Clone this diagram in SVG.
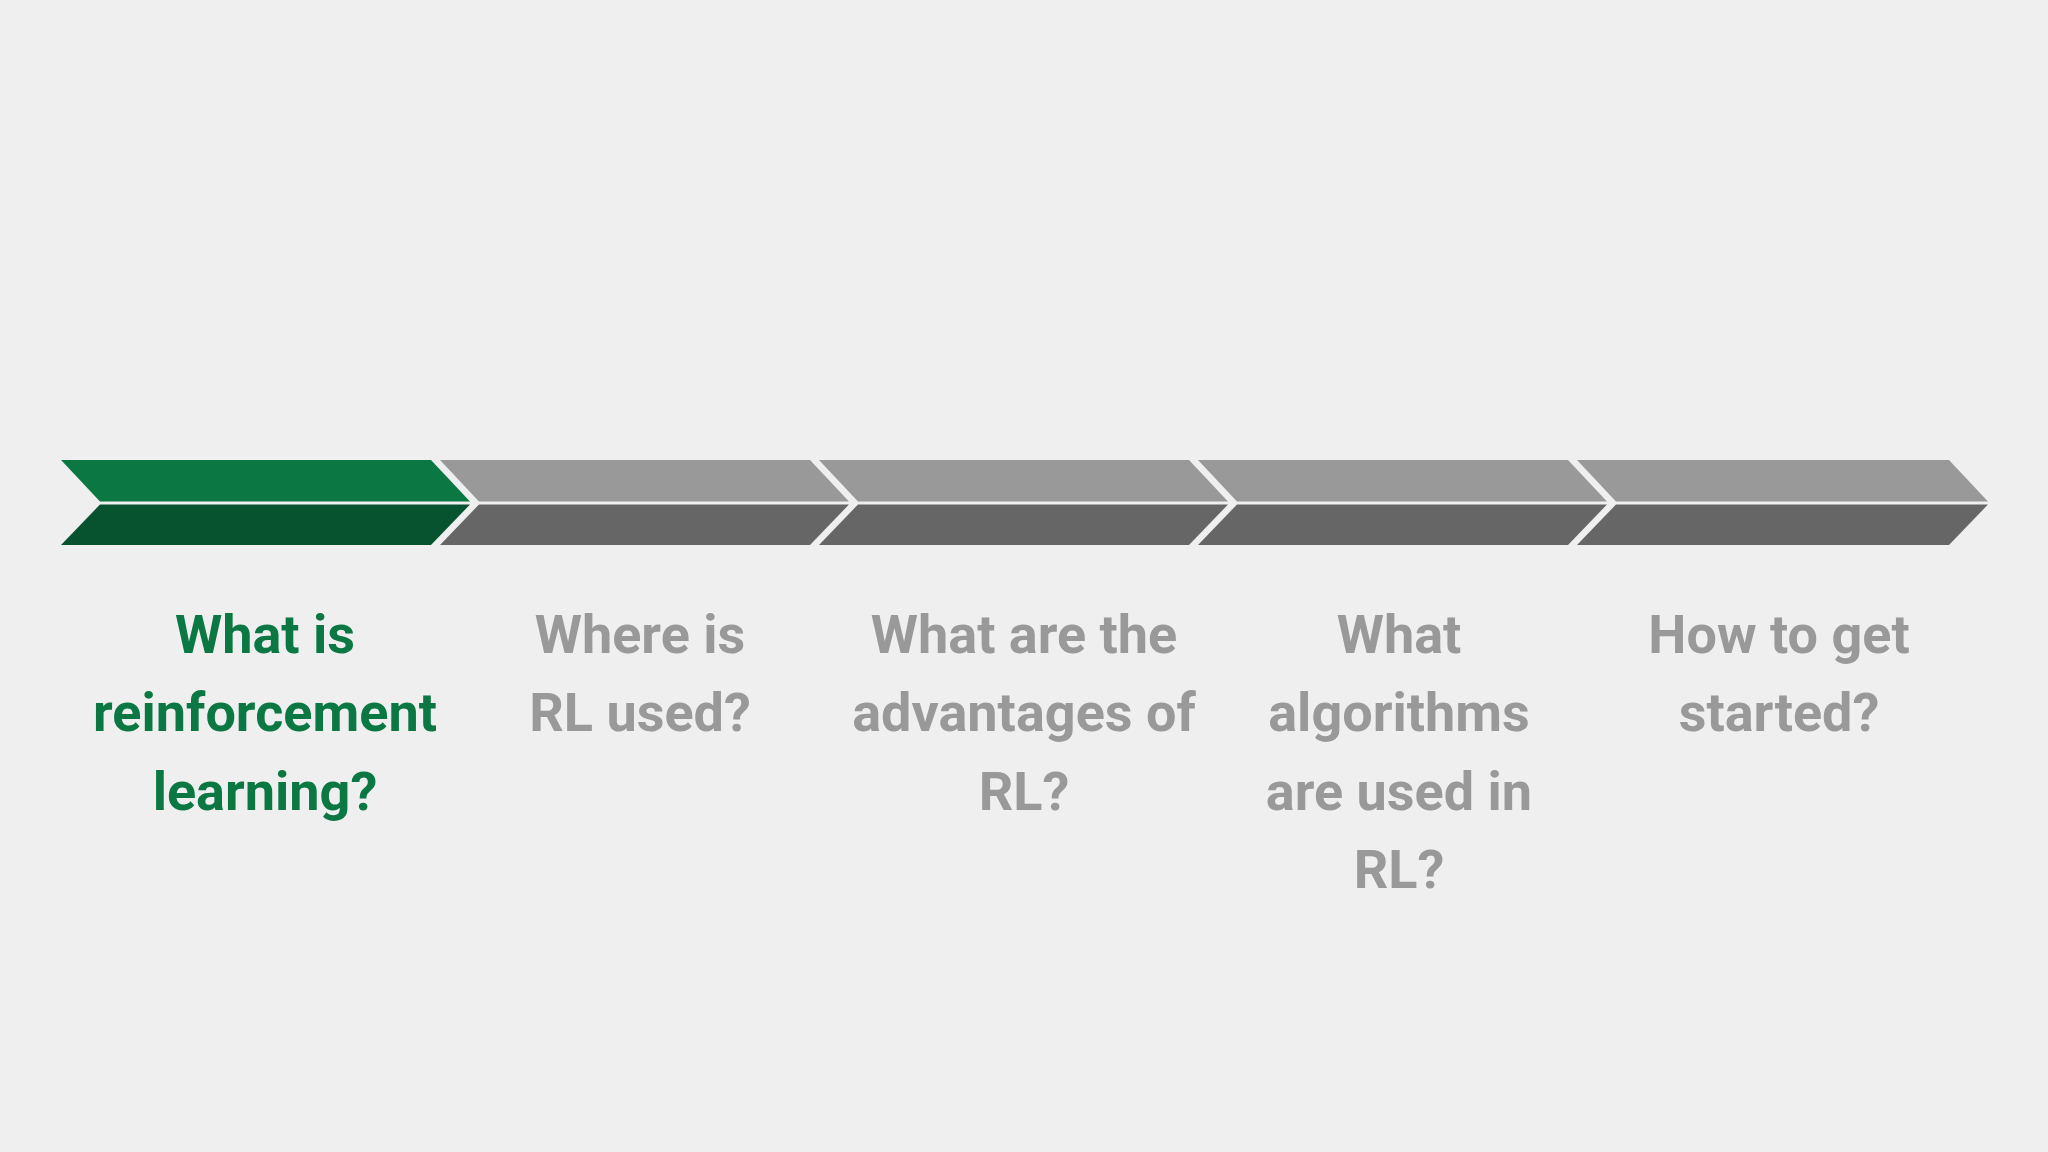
<svg xmlns="http://www.w3.org/2000/svg" width="2048" height="1152" viewBox="0 0 2048 1152">
<style>
.t{font-family:Roboto,"Liberation Sans",sans-serif;font-weight:bold;font-size:54px;text-anchor:middle}
.g{fill:#0b7843}.n{fill:#999999}
.gt{fill:#0b7843}.gb{fill:#075330}.at{fill:#999999}.ab{fill:#666666}
</style>
<rect width="2048" height="1152" fill="#efefef"/>
<g id="step1">
<polygon class="gt" points="61,460 431,460 470,501.5 100,501.5"/>
<polygon class="gb" points="100,504.5 470,504.5 431,545 61,545"/>
<text class="t g" x="265" y="653">What is<tspan x="265" y="731">reinforcement</tspan><tspan x="265" y="810">learning?</tspan></text>
</g>
<g id="step2">
<polygon class="at" points="440,460 810,460 849,501.5 479,501.5"/>
<polygon class="ab" points="479,504.5 849,504.5 810,545 440,545"/>
<text class="t n" x="640" y="653">Where is<tspan x="640" y="731">RL used?</tspan></text>
</g>
<g id="step3">
<polygon class="at" points="819,460 1189,460 1228,501.5 858,501.5"/>
<polygon class="ab" points="858,504.5 1228,504.5 1189,545 819,545"/>
<text class="t n" x="1024" y="653">What are the<tspan x="1024" y="731">advantages of</tspan><tspan x="1024" y="810">RL?</tspan></text>
</g>
<g id="step4">
<polygon class="at" points="1198,460 1568,460 1607,501.5 1237,501.5"/>
<polygon class="ab" points="1237,504.5 1607,504.5 1568,545 1198,545"/>
<text class="t n" x="1399" y="653">What<tspan x="1399" y="731">algorithms</tspan><tspan x="1399" y="810">are used in</tspan><tspan x="1399" y="888">RL?</tspan></text>
</g>
<g id="step5">
<polygon class="at" points="1577,460 1949,460 1988,501.5 1616,501.5"/>
<polygon class="ab" points="1616,504.5 1988,504.5 1949,545 1577,545"/>
<text class="t n" x="1779" y="653">How to get<tspan x="1779" y="731">started?</tspan></text>
</g>
<g id="connectors"/>
</svg>
